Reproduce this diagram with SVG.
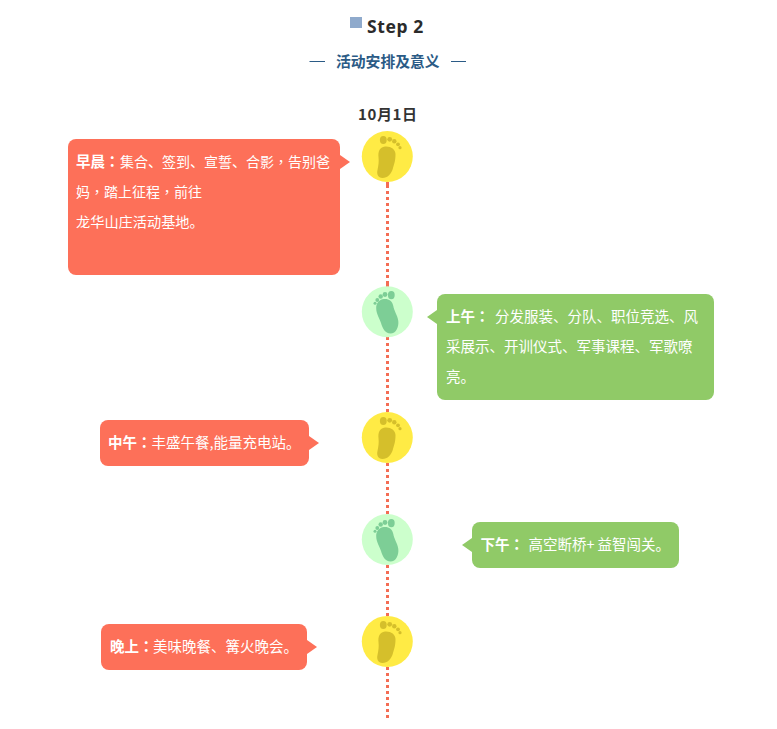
<svg xmlns="http://www.w3.org/2000/svg" width="777" height="729" viewBox="0 0 777 729">
<style>
text{font-family:"Noto Sans CJK SC","Noto Sans",sans-serif}
.t{font-size:14.500px;fill:#fff}
.s{font-size:14px}
.b{font-weight:700}
.p{font-family:"Noto Sans CJK TC","Noto Sans",sans-serif}
.red{fill:#fd7059}
.green{fill:#90ca67}
.cy{fill:#ffeb45}
.cg{fill:#ccffcc}
.fy{fill:#d5bf2b}
.fg{fill:#7dce96}
.dash{stroke:#f46d54;stroke-width:3;stroke-dasharray:3 3;fill:none}
.solid{stroke:#f46d54;stroke-width:3;fill:none}
</style>
<defs>
<g id="footY">
<path d="M-2.500 -10.500C3 -11 8 -8 8 -3C8 3 7 6 5.500 11C4 17 0 21 -5 21C-9.500 21 -11 17 -10 13C-9 8 -8.500 5 -9 0C-9.500 -5 -8 -10 -2.500 -10.500Z"/>
<ellipse cx="-4.200" cy="-17" rx="3.400" ry="4"/>
<circle cx="2.200" cy="-17.700" r="2.400"/>
<circle cx="6.800" cy="-15.700" r="2.200"/>
<circle cx="10.500" cy="-12.700" r="1.900"/>
<circle cx="12.500" cy="-9.300" r="1.600"/>
</g>
<g id="footG">
<path d="M-3.500 -13C1 -13.500 5 -11 5.800 -6C6.500 -1 10 3 10.800 9C11.500 15 8.500 21.500 3 21.500C-2.500 21.500 -5 16 -6.500 11C-8 6 -11.300 2 -11.300 -4C-11.300 -9 -8 -12.700 -3.500 -13Z"/>
<ellipse cx="3.800" cy="-16.900" rx="3.400" ry="4.200"/>
<circle cx="-2.500" cy="-17.500" r="2.400"/>
<circle cx="-6.800" cy="-15.500" r="2.200"/>
<circle cx="-10.200" cy="-12" r="1.900"/>
<circle cx="-12.500" cy="-8.700" r="1.500"/>
</g>
</defs>
<g id="title">
<rect x="350" y="17" width="12" height="11" fill="#8faacc"/>
<text x="367" y="33" font-size="17.500" font-weight="700" fill="#2b2b2b" letter-spacing="0.600" style="font-family:'Noto Sans',sans-serif">Step 2</text>
</g>
<g id="subtitle">
<path d="M309.500 61.500H325M451 61.500H466" stroke="#2b5b86" stroke-width="1" fill="none"/>
<text x="336" y="66.500" font-size="14.800px" font-weight="700" fill="#2b5b86">活动安排及意义</text>
</g>
<g id="date">
<text x="358" y="119.500" font-size="15px" font-weight="700" fill="#333" letter-spacing="0.600">10月1日</text>
</g>
<g id="connectors">
<path class="solid" d="M387.500 182V188M387.500 281V287"/>
<path class="dash" d="M387.500 191V281"/>
<path class="dash" d="M387.500 337V412"/>
<path class="dash" d="M387.500 463V514"/>
<path class="dash" d="M387.500 565V616"/>
<path class="dash" d="M387.500 667V718"/>
</g>
<g id="step1">
<circle cx="387.300" cy="156.500" r="25.500" class="cy"/>
<use href="#footY" x="387.500" y="157" class="fy"/>
</g>
<g id="step2">
<circle cx="387.300" cy="311.700" r="25.500" class="cg"/>
<use href="#footG" x="387.500" y="312" class="fg"/>
</g>
<g id="step3">
<circle cx="387.300" cy="437.500" r="25.500" class="cy"/>
<use href="#footY" x="387.500" y="438" class="fy"/>
</g>
<g id="step4">
<circle cx="387.300" cy="539.500" r="25.500" class="cg"/>
<use href="#footG" x="387.500" y="540" class="fg"/>
</g>
<g id="step5">
<circle cx="387.300" cy="641.400" r="25.500" class="cy"/>
<use href="#footY" x="387.500" y="642" class="fy"/>
</g>
<g id="card-morning">
<rect x="68" y="139" width="272" height="136" rx="8" class="red"/>
<path d="M340 155L350 162L340 169Z" class="red"/>
<text class="t" y="167"><tspan x="76" class="b">早晨</tspan><tspan class="b p" x="105">：</tspan><tspan x="120" class="s">集合、签到、宣誓、合影</tspan><tspan class="p s">，</tspan><tspan class="s">告别爸</tspan></text>
<text class="t s" y="197"><tspan x="76">妈</tspan><tspan class="p">，</tspan><tspan>踏上征程</tspan><tspan class="p">，</tspan><tspan>前往</tspan></text>
<text class="t" x="76" y="227" style="font-size:14.200px">龙华山庄活动基地。</text>
</g>
<g id="card-am">
<rect x="437" y="294" width="277" height="106" rx="8" class="green"/>
<path d="M437 310L427 317L437 324Z" class="green"/>
<text class="t" y="322"><tspan x="446" class="b">上午</tspan><tspan class="b p">：</tspan><tspan x="495">分发服装、分队、职位竞选、风</tspan></text>
<text class="t" x="446" y="352">采展示、开训仪式、军事课程、军歌嘹</text>
<text class="t" x="446" y="382">亮。</text>
</g>
<g id="card-noon">
<rect x="100" y="420" width="209" height="46" rx="8" class="red"/>
<path d="M309 436L319 443L309 450Z" class="red"/>
<text class="t" y="448"><tspan x="108" class="b">中午</tspan><tspan class="b p">：</tspan><tspan x="151.500">丰盛午餐,能量充电站。</tspan></text>
</g>
<g id="card-pm">
<rect x="472" y="522" width="207" height="46" rx="8" class="green"/>
<path d="M472 538L462 545L472 552Z" class="green"/>
<text class="t" y="550"><tspan x="480.500" class="b">下午</tspan><tspan class="b p">：</tspan><tspan x="528.500">高空断桥+</tspan><tspan x="597.500">益智闯关。</tspan></text>
</g>
<g id="card-evening">
<rect x="101" y="624" width="206" height="46" rx="8" class="red"/>
<path d="M307 640L317 647L307 654Z" class="red"/>
<text class="t" y="652"><tspan x="110" class="b">晚上</tspan><tspan class="b p">：</tspan><tspan x="153">美味晚餐、篝火晚会。</tspan></text>
</g>
</svg>
